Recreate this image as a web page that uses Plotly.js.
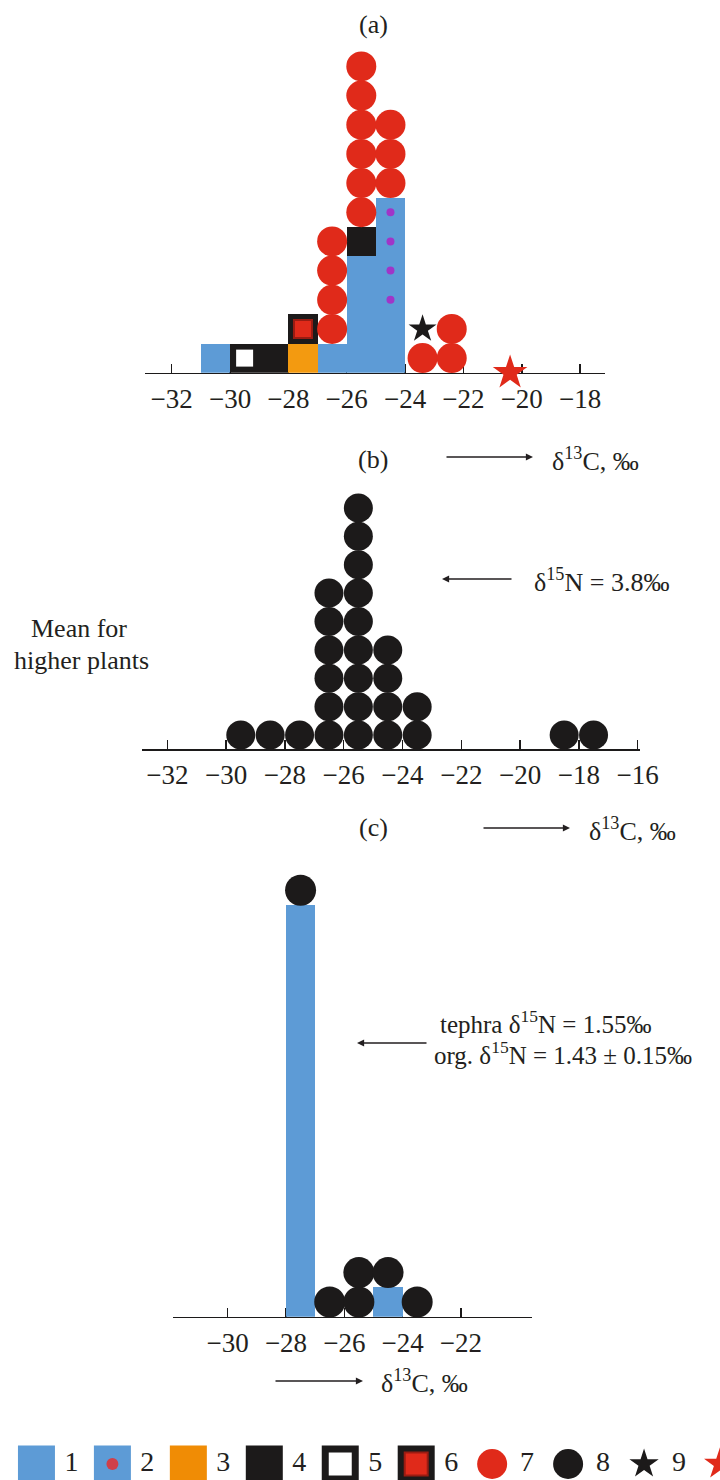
<!DOCTYPE html>
<html>
<head>
<meta charset="utf-8">
<script src="https://cdn.plot.ly/plotly-3.0.1.min.js"></script>
<style>html,body{margin:0;padding:0;background:#fff;}#chart{width:720px;height:1480px;}</style>
</head>
<body>
<div id="chart"></div>
<script>
// ---------- DATA ----------
// Panel (a): δ13C bins (‰) and counts of samples of each type, stacked in type order
const binsA  = [-30.5, -29.5, -28.5, -27.5, -26.5, -25.5, -24.5, -23.4, -22.4];
const aType1 = [1, 0, 0, 0, 1, 4, 2, 0, 0];   // 1 - blue square
const aType2 = [0, 0, 0, 0, 0, 0, 4, 0, 0];   // 2 - blue square with red dot
const aType3 = [0, 0, 0, 1, 0, 0, 0, 0, 0];   // 3 - orange square
const aType4 = [0, 0, 1, 0, 0, 1, 0, 0, 0];   // 4 - black square
const aType5 = [0, 1, 0, 0, 0, 0, 0, 0, 0];   // 5 - open square
const aType6 = [0, 0, 0, 1, 0, 0, 0, 0, 0];   // 6 - black-framed red square
const aType7 = [0, 0, 0, 0, 4, 6, 3, 1, 2];   // 7 - red circle
const aType9 = [0, 0, 0, 0, 0, 0, 0, 1, 0];   // 9 - black star
const aType10X = [-20.4];                     // 10 - red star (on the axis)

// Panel (b)
const binsB  = [-29.5, -28.5, -27.5, -26.5, -25.5, -24.5, -23.5, -18.5, -17.5];
const bType8 = [1, 1, 1, 6, 9, 4, 2, 1, 1];   // 8 - black circle

// Panel (c)
const binsC  = [-27.5, -26.5, -25.5, -24.5, -23.5];
const cType1 = [14, 0, 0, 1, 0];
const cType8 = [1, 1, 2, 1, 1];

// Ticks
const ticksA = [-32, -30, -28, -26, -24, -22, -20, -18];
const ticksB = [-32, -30, -28, -26, -24, -22, -20, -18, -16];
const ticksC = [-30, -28, -26, -24, -22];

// Legend (item 10's label falls outside the picture)
const legendIdx = [1, 2, 3, 4, 5, 6, 7, 8, 9, 10];
const legendLabels = ['1', '2', '3', '4', '5', '6', '7', '8', '9'];

// ---------- STYLE ----------
const BLUE = '#5d9bd6', RED = '#e02a1a', ORANGE = '#f39a10', BLACK = '#1c1a1a', PURPLE = '#a035c8';
const FONT = 'Liberation Serif';
const TXT = '#231f20';

// stacking helper
function stack(bins, layers) {
  const h = bins.map(() => 0);
  return layers.map(counts => {
    const o = {x: [], base: [], h: [], cx: [], cy: []};
    counts.forEach((c, i) => {
      if (c > 0) {
        o.x.push(bins[i]); o.base.push(h[i]); o.h.push(c);
        for (let k = 0; k < c; k++) { o.cx.push(bins[i]); o.cy.push(h[i] + k + 0.5); }
        h[i] += c;
      }
    });
    return o;
  });
}

const [a1, a2, a3, a4, a5, a6, a7, a9] = stack(binsA, [aType1, aType2, aType3, aType4, aType5, aType6, aType7, aType9]);
const [b8] = stack(binsB, [bType8]);
const [c1, c8] = stack(binsC, [cType1, cType8]);

function bar(s, color, xa, ya) {
  return {type: 'bar', x: s.x, y: s.h, base: s.base, width: 1, xaxis: xa, yaxis: ya,
    marker: {color: color, line: {width: 0}}, hoverinfo: 'skip'};
}
function pts(xs, ys, symbol, size, color, xa, ya, line) {
  return {type: 'scatter', mode: 'markers', x: xs, y: ys, xaxis: xa, yaxis: ya, cliponaxis: false,
    marker: {symbol: symbol, size: size, color: color, line: line || {width: 0}}, hoverinfo: 'skip'};
}

const traces = [
  // panel a
  bar(a1, BLUE, 'x', 'y'),
  bar(a2, BLUE, 'x', 'y'),
  pts(a2.cx, a2.cy, 'circle', 8, PURPLE, 'x', 'y'),
  bar(a3, ORANGE, 'x', 'y'),
  bar(a4, BLACK, 'x', 'y'),
  bar(a5, BLACK, 'x', 'y'),
  pts(a5.cx, a5.cy, 'square', 17, '#ffffff', 'x', 'y'),
  bar(a6, BLACK, 'x', 'y'),
  pts(a6.cx, a6.cy, 'square', 18, RED, 'x', 'y', {width: 2, color: '#9a1c12'}),
  pts(a7.cx, a7.cy, 'circle', 30, RED, 'x', 'y'),
  pts(a9.cx, a9.cy, 'star', 21, BLACK, 'x', 'y'),
  pts(aType10X, aType10X.map(() => 0), 'star', 26, RED, 'x', 'y'),
  // panel b
  pts(b8.cx, b8.cy, 'circle', 29, BLACK, 'x2', 'y2'),
  // panel c
  bar(c1, BLUE, 'x3', 'y3'),
  pts(c8.cx, c8.cy, 'circle', 31, BLACK, 'x3', 'y3'),
  // legend symbols
  pts([legendIdx[0]], [0], 'square', 37, BLUE, 'x4', 'y4'),
  pts([legendIdx[1]], [0], 'square', 37, BLUE, 'x4', 'y4'),
  pts([legendIdx[1]], [0], 'circle', 12, '#d0404a', 'x4', 'y4'),
  pts([legendIdx[2]], [0], 'square', 37, '#f08c05', 'x4', 'y4'),
  pts([legendIdx[3]], [0], 'square', 37, BLACK, 'x4', 'y4'),
  pts([legendIdx[4]], [0], 'square', 37, BLACK, 'x4', 'y4'),
  pts([legendIdx[4]], [0], 'square', 23, '#ffffff', 'x4', 'y4'),
  pts([legendIdx[5]], [0], 'square', 37, BLACK, 'x4', 'y4'),
  pts([legendIdx[5]], [0], 'square', 23, RED, 'x4', 'y4', {width: 2, color: '#9a1c12'}),
  pts([legendIdx[6]], [0], 'circle', 30, RED, 'x4', 'y4'),
  pts([legendIdx[7]], [0], 'circle', 30, BLACK, 'x4', 'y4'),
  pts([legendIdx[8]], [0], 'star', 22, BLACK, 'x4', 'y4'),
  pts([legendIdx[9]], [0], 'star', 24, RED, 'x4', 'y4'),
  {type: 'scatter', mode: 'text', x: legendLabels.map((l, i) => legendIdx[i] + 0.46), y: legendLabels.map(() => 0),
   text: legendLabels, xaxis: 'x4', yaxis: 'y4', cliponaxis: false, hoverinfo: 'skip',
   textfont: {family: FONT, size: 28, color: TXT}}
];

// ---------- LAYOUT ----------
const W = 720, H = 1480;
const px = v => v / W, py = v => 1 - v / H;

function xax(domL, domR, range, ticks) {
  return {domain: [px(domL), px(domR)], range: range, showgrid: false, zeroline: false,
    showline: true, linecolor: BLACK, linewidth: 1.5, ticks: 'inside', ticklen: 9, tickwidth: 1.5,
    tickcolor: BLACK, tickvals: ticks, tickfont: {family: FONT, size: 27, color: TXT},
    ticklabelstandoff: 1, layer: 'below traces', fixedrange: true};
}
function yax(bottomPx, topPx, range, anchor) {
  return {domain: [py(bottomPx), py(topPx)], range: range, visible: false, fixedrange: true, anchor: anchor};
}

const layout = {
  width: W, height: H, margin: {l: 0, r: 0, t: 0, b: 0},
  paper_bgcolor: '#ffffff', plot_bgcolor: 'rgba(0,0,0,0)',
  showlegend: false, barmode: 'overlay', bargap: 0,
  xaxis:  Object.assign(xax(145, 605, [-32.915, -17.146], ticksA), {anchor: 'y'}),
  yaxis:  yax(372.7, 45, [0, 11.234], 'x'),
  xaxis2: Object.assign(xax(141.7, 640, [-32.87, -15.92], ticksB), {anchor: 'y2'}),
  yaxis2: yax(749.3, 490, [0, 9.13], 'x2'),
  xaxis3: Object.assign(xax(173.3, 531.7, [-31.866, -19.571], ticksC), {anchor: 'y3'}),
  yaxis3: yax(1316.7, 870, [0, 15.19], 'x3'),
  xaxis4: {domain: [0, 1], range: [0.52, 10.0], visible: false, fixedrange: true, anchor: 'y4'},
  yaxis4: {domain: [0, 0.0216], range: [-1, 1], visible: false, fixedrange: true, anchor: 'x4'},
  annotations: []
};

function txt(text, x, y, anchor, size) {
  return {text: text, xref: 'paper', yref: 'paper', x: px(x), y: py(y), xanchor: anchor || 'center',
    yanchor: 'middle', showarrow: false, font: {family: FONT, size: size || 26, color: TXT}};
}
function arrow(tailX, headX, y) {
  return {text: '', xref: 'paper', yref: 'paper', x: px(headX), y: py(y), ax: tailX - headX, ay: 0,
    showarrow: true, arrowhead: 2, arrowsize: 1.1, arrowwidth: 1.3, arrowcolor: TXT, standoff: 0};
}

const d13C = 'δ<sup>13</sup>C, ‰';
layout.annotations.push(
  txt('(a)', 373, 25),
  txt('(b)', 373, 459),
  arrow(445, 533, 457),
  txt(d13C, 550, 460, 'left'),
  arrow(513, 442, 579),
  txt('δ<sup>15</sup>N = 3.8‰', 532, 580, 'left'),
  txt('Mean for', 79, 628),
  txt('higher plants', 81, 660),
  txt('(c)', 373, 828),
  arrow(482, 570, 828),
  txt(d13C, 587, 829, 'left'),
  arrow(428, 357, 1043),
  txt('tephra δ<sup>15</sup>N = 1.55‰', 438, 1022, 'left', 25),
  txt('org. δ<sup>15</sup>N = 1.43 ± 0.15‰', 432, 1053, 'left', 25),
  arrow(274, 363, 1381),
  txt(d13C, 379, 1381, 'left')
);

Plotly.newPlot('chart', traces, layout, {staticPlot: true, displayModeBar: false});
</script>
</body>
</html>
